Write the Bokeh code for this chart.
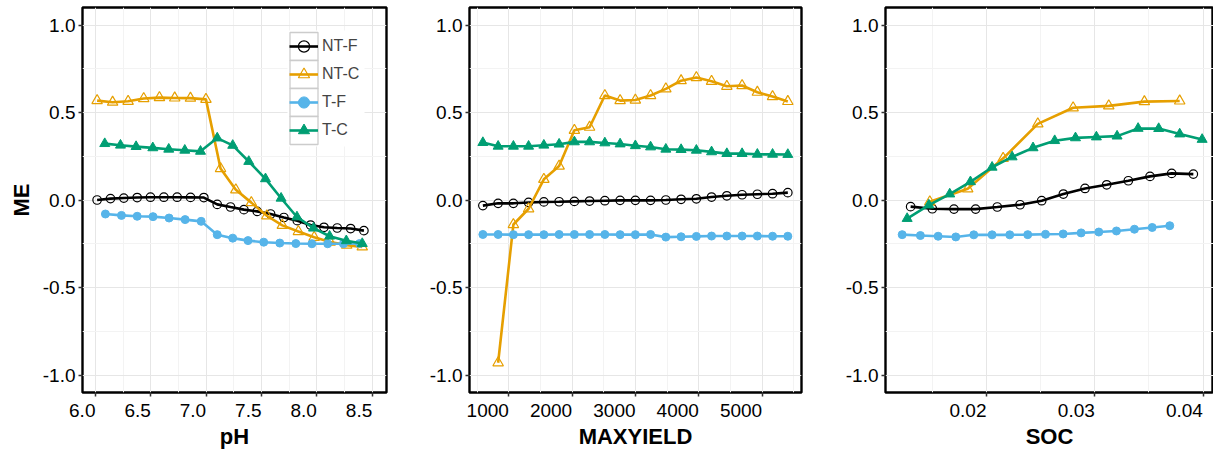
from bokeh.plotting import figure
from bokeh.layouts import row
from bokeh.models import Range1d, FixedTicker, PrintfTickFormatter, Legend, LegendItem
from bokeh.embed import file_html
from bokeh.resources import INLINE

series_names = ["NT-F", "NT-C", "T-F", "T-C"]
series_colors = ["#000000", "#E69F00", "#56B4E9", "#009E73"]

# ---------------- pH panel ----------------
ph_ntf_x = [6.015, 6.136, 6.256, 6.377, 6.497, 6.618, 6.738, 6.859, 6.979, 7.100, 7.220,
            7.341, 7.461, 7.582, 7.702, 7.823, 7.943, 8.064, 8.184, 8.305, 8.425]
ph_ntf_y = [0.0, 0.008, 0.011, 0.014, 0.016, 0.016, 0.016, 0.015, 0.014, -0.025, -0.040,
            -0.055, -0.065, -0.080, -0.100, -0.118, -0.143, -0.156, -0.160, -0.163, -0.175]
ph_ntc_x = [6.015, 6.155, 6.295, 6.436, 6.578, 6.716, 6.858, 6.998, 7.130, 7.268, 7.408,
            7.548, 7.688, 7.833, 7.976, 8.120, 8.270, 8.410]
ph_ntc_y = [0.568, 0.559, 0.564, 0.580, 0.585, 0.583, 0.582, 0.575, 0.180, 0.058, -0.015,
            -0.090, -0.145, -0.180, -0.213, -0.240, -0.258, -0.268]
ph_tf_x = [6.090, 6.235, 6.377, 6.520, 6.665, 6.810, 6.955, 7.100, 7.240, 7.378, 7.520,
           7.665, 7.810, 7.955, 8.098, 8.240, 8.385]
ph_tf_y = [-0.080, -0.088, -0.093, -0.095, -0.103, -0.112, -0.122, -0.198, -0.218, -0.232,
           -0.241, -0.246, -0.249, -0.250, -0.250, -0.250, -0.249]
ph_tc_x = [6.084, 6.226, 6.367, 6.518, 6.662, 6.807, 6.949, 7.100, 7.240, 7.385, 7.536,
           7.677, 7.820, 7.970, 8.115, 8.266, 8.410]
ph_tc_y = [0.322, 0.313, 0.305, 0.298, 0.290, 0.284, 0.278, 0.354, 0.312, 0.220, 0.121,
           0.010, -0.097, -0.161, -0.207, -0.233, -0.249]

# ---------------- MAXYIELD panel ----------------
my_x = [590, 831, 1072, 1312, 1553, 1794, 2035, 2275, 2516, 2757, 2998, 3238, 3479, 3720,
        3961, 4201, 4442, 4683, 4924, 5164, 5405]
my_ntf_y = [-0.032, -0.019, -0.019, -0.014, -0.011, -0.010, -0.008, -0.006, -0.004, -0.002,
            -0.002, -0.002, 0.000, 0.004, 0.007, 0.017, 0.024, 0.030, 0.033, 0.036, 0.042]
my_ntc_x = [831, 1072, 1312, 1553, 1794, 2035, 2275, 2516, 2757, 2998, 3238, 3479, 3720,
            3961, 4201, 4442, 4683, 4924, 5164, 5405]
my_ntc_y = [-0.930, -0.140, -0.050, 0.118, 0.194, 0.398, 0.416, 0.597, 0.568, 0.571, 0.597,
            0.635, 0.682, 0.700, 0.678, 0.650, 0.654, 0.616, 0.591, 0.563]
my_tf_y = [-0.197, -0.197, -0.198, -0.198, -0.198, -0.197, -0.197, -0.197, -0.197, -0.198,
           -0.198, -0.197, -0.212, -0.210, -0.208, -0.206, -0.206, -0.206, -0.206, -0.207, -0.207]
my_tc_y = [0.328, 0.307, 0.307, 0.307, 0.313, 0.319, 0.332, 0.332, 0.326, 0.320, 0.310,
           0.303, 0.290, 0.288, 0.284, 0.275, 0.265, 0.265, 0.261, 0.261, 0.260]

# ---------------- SOC panel ----------------
soc_ntf_x = [0.0130, 0.0150, 0.0170, 0.0190, 0.0210, 0.0231, 0.0251, 0.0271, 0.0291, 0.0311,
             0.0331, 0.0351, 0.0371, 0.0391]
soc_ntf_y = [-0.038, -0.050, -0.052, -0.052, -0.040, -0.027, -0.004, 0.034, 0.066, 0.087,
             0.110, 0.135, 0.152, 0.148]
soc_ntc_x = [0.01477, 0.01827, 0.02154, 0.02474, 0.02800, 0.03129, 0.03458, 0.03784]
soc_ntc_y = [-0.010, 0.064, 0.238, 0.435, 0.527, 0.538, 0.562, 0.566]
soc_tf_x = [0.01222, 0.01390, 0.01554, 0.01717, 0.01883, 0.02052, 0.02215, 0.02381, 0.02545,
            0.02708, 0.02874, 0.03037, 0.03200, 0.03366, 0.03530, 0.03692]
soc_tf_y = [-0.198, -0.203, -0.207, -0.211, -0.199, -0.199, -0.199, -0.198, -0.196, -0.194,
            -0.188, -0.183, -0.177, -0.167, -0.157, -0.147]
soc_tc_x = [0.01268, 0.01468, 0.01661, 0.01852, 0.02052, 0.02237, 0.02430, 0.02630, 0.02822,
            0.03015, 0.03206, 0.03400, 0.03590, 0.03784, 0.03991]
soc_tc_y = [-0.106, -0.029, 0.034, 0.104, 0.187, 0.246, 0.298, 0.339, 0.355, 0.360, 0.365,
            0.409, 0.408, 0.377, 0.346]

y_ticks = [-1.0, -0.5, 0.0, 0.5, 1.0]
y_minor = [-0.75, -0.25, 0.25, 0.75]

ph_ticks = [6.0, 6.5, 7.0, 7.5, 8.0, 8.5]
ph_labels = ["6.0", "6.5", "7.0", "7.5", "8.0", "8.5"]
ph_minor = [6.25, 6.75, 7.25, 7.75, 8.25]
my_ticks = [1000, 2000, 3000, 4000, 5000]
my_labels = ["1000", "2000", "3000", "4000", "5000"]
my_minor = [500, 1500, 2500, 3500, 4500, 5500]
soc_ticks = [0.02, 0.03, 0.04]
soc_labels = ["0.02", "0.03", "0.04"]
soc_minor = [0.015, 0.025, 0.035]

FONT = "Liberation Sans"
TICK_PX = 19
Y_RANGE = (-1.1, 1.1)
FRAME_H = 385
NBSP_EM = 0.278

marker_style = [
    dict(marker="circle", size=8.5, fill_color=None, line_width=1.2),
    dict(marker="triangle", size=10.5, fill_color=None, line_width=1.2),
    dict(marker="circle", size=8, line_width=1),
    dict(marker="triangle", size=10, line_width=1),
]

# legend geometry (pixels from frame's bottom-left)
LEG_X, LEG_Y = 207, 248
KEY_W, KEY_H = 29, 28
LABEL_W = 46


def right_aligned(label, room_px):
    # the reference's x tick labels end at their tick: pad each centred label on the right
    # with no-break spaces as wide as the label itself (digit = 2 spaces, '.' = 1 space).
    # Near the canvas edge Bokeh pushes the label inside, so the pad then only needs to
    # equal the room left between the tick and the edge.
    n = sum(1 if ch == "." else 2 for ch in label)
    w = n * NBSP_EM * TICK_PX
    if room_px < w:
        n = max(0, round(room_px / (NBSP_EM * TICK_PX)))
    return label + "\u00a0" * n


def make_panel(title, xr, xticks, xlabels, xminor, series, width, bl, br, ylabel=None, legend=False):
    p = figure(width=width, height=451, output_backend="svg", toolbar_location=None,
               x_range=Range1d(*xr), y_range=Range1d(*Y_RANGE),
               min_border_left=bl, min_border_right=br, min_border_top=7, min_border_bottom=59)
    frame_w = width - bl - br
    p.background_fill_color = "white"
    p.border_fill_color = "white"
    p.outline_line_color = "black"
    p.outline_line_width = 2.4
    p.xaxis.ticker = FixedTicker(ticks=xticks, minor_ticks=xminor)
    p.yaxis.ticker = FixedTicker(ticks=y_ticks, minor_ticks=y_minor)
    p.yaxis.formatter = PrintfTickFormatter(format="%.1f")
    overrides = {}
    for t, l in zip(xticks, xlabels):
        tick_px = bl + (t - xr[0]) / (xr[1] - xr[0]) * frame_w
        overrides[t] = right_aligned(l, width - tick_px)
    p.xaxis.major_label_overrides = overrides
    for ax in (p.xaxis, p.yaxis):
        ax.axis_line_color = None
        ax.minor_tick_line_color = None
        ax.major_tick_in = 0
        ax.major_tick_out = 4
        ax.major_tick_line_color = "#333333"
        ax.major_tick_line_width = 1.5
        ax.major_label_text_font = FONT
        ax.major_label_text_font_size = f"{TICK_PX}px"
        ax.major_label_text_color = "black"
        ax.axis_label_text_font = FONT
        ax.axis_label_text_font_size = "22px"
        ax.axis_label_text_font_style = "bold"
        ax.axis_label_text_color = "black"
    p.xaxis.major_label_standoff = 3
    p.yaxis.major_label_standoff = 3
    p.xaxis.axis_label = title
    p.xaxis.axis_label_standoff = 0
    if ylabel:
        p.yaxis.axis_label = ylabel
        p.yaxis.axis_label_standoff = 6
    p.xgrid.grid_line_color = "#E6E6E6"
    p.ygrid.grid_line_color = "#E6E6E6"
    p.xgrid.minor_grid_line_color = "#F3F3F3"
    p.ygrid.minor_grid_line_color = "#F3F3F3"

    if legend:
        sx = (xr[1] - xr[0]) / frame_w
        sy = (Y_RANGE[1] - Y_RANGE[0]) / FRAME_H
        px2x = lambda v: xr[0] + v * sx
        py2y = lambda v: Y_RANGE[0] + v * sy
        n = len(series_names)
        p.quad(left=px2x(LEG_X - 2), right=px2x(LEG_X + KEY_W + LABEL_W),
               bottom=py2y(LEG_Y - 2), top=py2y(LEG_Y + n * KEY_H + 2),
               fill_color="white", line_color=None)
        tops = [py2y(LEG_Y + (n - i) * KEY_H) for i in range(n)]
        bottoms = [py2y(LEG_Y + (n - i - 1) * KEY_H) for i in range(n)]
        p.quad(left=[px2x(LEG_X + 0.5)] * n, right=[px2x(LEG_X + KEY_W - 0.5)] * n,
               top=tops, bottom=bottoms, fill_color="white",
               line_color="#CCCCCC", line_width=1.3)

    items = []
    for (xs, ys), name, color, ms in zip(series, series_names, series_colors, marker_style):
        ln = p.line(xs, ys, line_color=color, line_width=2.6)
        kw = dict(ms)
        if kw.get("fill_color", "x") is not None:
            kw["fill_color"] = color
        sc = p.scatter(xs, ys, line_color=color, **kw)
        items.append(LegendItem(label=name, renderers=[ln, sc]))
    if legend:
        lg = Legend(items=items, location=(LEG_X, LEG_Y))
        lg.label_text_font = FONT
        lg.label_text_font_size = "16px"
        lg.glyph_width = KEY_W
        lg.glyph_height = KEY_H
        lg.label_height = KEY_H
        lg.spacing = 0
        lg.padding = 0
        lg.margin = 0
        lg.label_standoff = 4
        lg.border_line_color = None
        lg.background_fill_alpha = 0.0
        p.add_layout(lg)
    return p


p1 = make_panel("pH", (5.883, 8.629), ph_ticks, ph_labels, ph_minor,
                [(ph_ntf_x, ph_ntf_y), (ph_ntc_x, ph_ntc_y), (ph_tf_x, ph_tf_y), (ph_tc_x, ph_tc_y)],
                420, 82, 34, ylabel="ME", legend=True)
p2 = make_panel("MAXYIELD", (379, 5621), my_ticks, my_labels, my_minor,
                [(my_x, my_ntf_y), (my_ntc_x, my_ntc_y), (my_x, my_tf_y), (my_x, my_tc_y)],
                420, 49, 39)
p3 = make_panel("SOC", (0.01068, 0.04096), soc_ticks, soc_labels, soc_minor,
                [(soc_ntf_x, soc_ntf_y), (soc_ntc_x, soc_ntc_y), (soc_tf_x, soc_tf_y), (soc_tc_x, soc_tc_y)],
                373, 45, 0)

layout = row(p1, p2, p3)
open("out.html", "w").write(file_html(layout, INLINE))
